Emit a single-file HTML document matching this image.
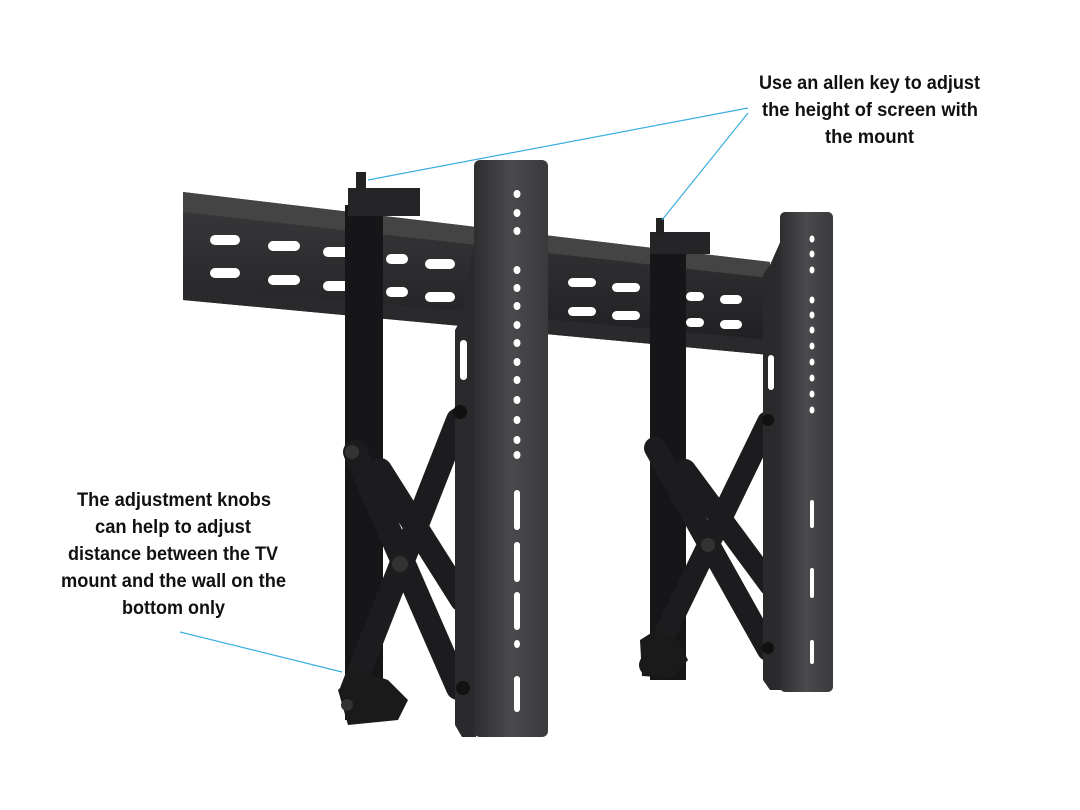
<!DOCTYPE html>
<html><head><meta charset="utf-8"><style>
html,body{margin:0;padding:0;background:#fff;width:1080px;height:810px;overflow:hidden}
text{font-family:"Liberation Sans",sans-serif;font-weight:bold;fill:#111;font-size:19px}
</style></head><body>
<svg width="1080" height="810" viewBox="0 0 1080 810" xmlns="http://www.w3.org/2000/svg">
<defs>
<linearGradient id="bar" x1="0" x2="1" y1="0" y2="0">
<stop offset="0" stop-color="#2e2e30"/><stop offset="0.5" stop-color="#4a4a4d"/><stop offset="1" stop-color="#3a3a3c"/></linearGradient>
<linearGradient id="rail" x1="0" x2="0" y1="0" y2="1">
<stop offset="0" stop-color="#3a3a3c"/><stop offset="1" stop-color="#1e1e20"/></linearGradient>
</defs>
<!-- rail -->
<polygon points="183,192 770,262 770,355 183,300" fill="url(#rail)"/>
<polygon points="183,192 770,262 770,278 183,212" fill="#444"/>
<polygon points="183,285 770,340 770,355 183,300" fill="#2a2a2c"/>
<g fill="#fff">
<rect x="210" y="235" width="30" height="10" rx="5"/><rect x="268" y="241" width="32" height="10" rx="5"/><rect x="323" y="247" width="30" height="10" rx="5"/><rect x="386" y="254" width="22" height="10" rx="5"/><rect x="425" y="259" width="30" height="10" rx="5"/>
<rect x="210" y="268" width="30" height="10" rx="5"/><rect x="268" y="275" width="32" height="10" rx="5"/><rect x="323" y="281" width="30" height="10" rx="5"/><rect x="386" y="287" width="22" height="10" rx="5"/><rect x="425" y="292" width="30" height="10" rx="5"/>
<rect x="568" y="278" width="28" height="9" rx="4.5"/><rect x="612" y="283" width="28" height="9" rx="4.5"/><rect x="686" y="292" width="18" height="9" rx="4.5"/><rect x="720" y="295" width="22" height="9" rx="4.5"/>
<rect x="568" y="307" width="28" height="9" rx="4.5"/><rect x="612" y="311" width="28" height="9" rx="4.5"/><rect x="686" y="318" width="18" height="9" rx="4.5"/><rect x="720" y="320" width="22" height="9" rx="4.5"/>
</g>
<!-- left scissor unit -->
<rect x="345" y="205" width="38" height="515" fill="#161618"/>
<rect x="348" y="188" width="72" height="28" fill="#252527"/>
<rect x="356" y="172" width="10" height="18" fill="#222"/>
<g stroke="#1c1c1e" stroke-width="24" stroke-linecap="round">
<line x1="355" y1="452" x2="458" y2="688"/>
<line x1="458" y1="420" x2="352" y2="690"/>
<line x1="380" y1="470" x2="462" y2="600"/>
</g>
<circle cx="400" cy="564" r="8" fill="#333"/><circle cx="352" cy="452" r="7" fill="#333"/>
<path d="M338,690 l20,-20 30,10 20,20 -10,20 -50,5 z" fill="#1a1a1a"/>
<circle cx="347" cy="705" r="6" fill="#333"/>
<!-- left bar -->
<polygon points="455,330 462,318 476,228 476,737 462,737 455,725" fill="#2a2a2c"/>
<rect x="474" y="160" width="74" height="577" rx="6" fill="url(#bar)"/>
<g fill="#fff">
<ellipse cx="517" cy="194" rx="3.5" ry="4"/><ellipse cx="517" cy="213" rx="3.5" ry="4"/><ellipse cx="517" cy="231" rx="3.5" ry="4"/>
<ellipse cx="517" cy="270" rx="3.5" ry="4"/><ellipse cx="517" cy="288" rx="3.5" ry="4"/><ellipse cx="517" cy="306" rx="3.5" ry="4"/><ellipse cx="517" cy="325" rx="3.5" ry="4"/><ellipse cx="517" cy="343" rx="3.5" ry="4"/><ellipse cx="517" cy="362" rx="3.5" ry="4"/><ellipse cx="517" cy="380" rx="3.5" ry="4"/><ellipse cx="517" cy="400" rx="3.5" ry="4"/><ellipse cx="517" cy="420" rx="3.5" ry="4"/><ellipse cx="517" cy="440" rx="3.5" ry="4"/><ellipse cx="517" cy="455" rx="3.5" ry="4"/>
<rect x="514" y="490" width="6" height="40" rx="3"/><rect x="514" y="542" width="6" height="40" rx="3"/><rect x="514" y="592" width="6" height="38" rx="3"/><ellipse cx="517" cy="644" rx="3" ry="4"/><rect x="514" y="676" width="6" height="36" rx="3"/>
<rect x="460" y="340" width="7" height="40" rx="3.5"/>
</g>
<circle cx="460" cy="412" r="7" fill="#111"/><circle cx="463" cy="688" r="7" fill="#111"/>
<!-- right scissor unit -->
<rect x="650" y="245" width="36" height="435" fill="#161618"/>
<rect x="650" y="232" width="60" height="22" fill="#252527"/>
<rect x="656" y="218" width="8" height="16" fill="#222"/>
<g stroke="#1c1c1e" stroke-width="22" stroke-linecap="round">
<line x1="655" y1="448" x2="768" y2="650"/>
<line x1="768" y1="422" x2="650" y2="665"/>
<line x1="685" y1="470" x2="770" y2="585"/>
</g>
<circle cx="708" cy="545" r="7" fill="#333"/>
<path d="M640,640 l16,-10 22,10 10,20 -16,18 -30,-2 z" fill="#1a1a1a"/>
<!-- right bar -->
<polygon points="763,275 770,265 782,238 782,690 770,690 763,680" fill="#2a2a2c"/>
<rect x="780" y="212" width="53" height="480" rx="5" fill="url(#bar)"/>
<g fill="#fff">
<ellipse cx="812" cy="239" rx="2.5" ry="3.5"/><ellipse cx="812" cy="254" rx="2.5" ry="3.5"/><ellipse cx="812" cy="270" rx="2.5" ry="3.5"/><ellipse cx="812" cy="300" rx="2.5" ry="3.5"/><ellipse cx="812" cy="315" rx="2.5" ry="3.5"/><ellipse cx="812" cy="330" rx="2.5" ry="3.5"/><ellipse cx="812" cy="346" rx="2.5" ry="3.5"/><ellipse cx="812" cy="362" rx="2.5" ry="3.5"/><ellipse cx="812" cy="378" rx="2.5" ry="3.5"/><ellipse cx="812" cy="394" rx="2.5" ry="3.5"/><ellipse cx="812" cy="410" rx="2.5" ry="3.5"/>
<rect x="810" y="500" width="4" height="28" rx="2"/><rect x="810" y="568" width="4" height="30" rx="2"/><rect x="810" y="640" width="4" height="24" rx="2"/>
<rect x="768" y="355" width="6" height="35" rx="3"/>
</g>
<circle cx="768" cy="420" r="6" fill="#111"/><circle cx="768" cy="648" r="6" fill="#111"/>
<!-- callout lines -->
<g stroke="#3aaee0" stroke-width="1.2" fill="none">
<line x1="748" y1="108" x2="368" y2="180"/>
<line x1="748" y1="113" x2="662" y2="220"/>
<line x1="180" y1="632" x2="342" y2="672"/>
</g>
<!-- text -->
<text x="759" y="89" textLength="221" lengthAdjust="spacingAndGlyphs">Use an allen key to adjust</text>
<text x="762" y="116" textLength="216" lengthAdjust="spacingAndGlyphs">the height of screen with</text>
<text x="825" y="143" textLength="89" lengthAdjust="spacingAndGlyphs">the mount</text>
<text x="77" y="506" textLength="194" lengthAdjust="spacingAndGlyphs">The adjustment knobs</text>
<text x="95" y="533" textLength="156" lengthAdjust="spacingAndGlyphs">can help to adjust</text>
<text x="68" y="560" textLength="210" lengthAdjust="spacingAndGlyphs">distance between the TV</text>
<text x="61" y="587" textLength="225" lengthAdjust="spacingAndGlyphs">mount and the wall on the</text>
<text x="122" y="614" textLength="103" lengthAdjust="spacingAndGlyphs">bottom only</text>
</svg>
</body></html>
